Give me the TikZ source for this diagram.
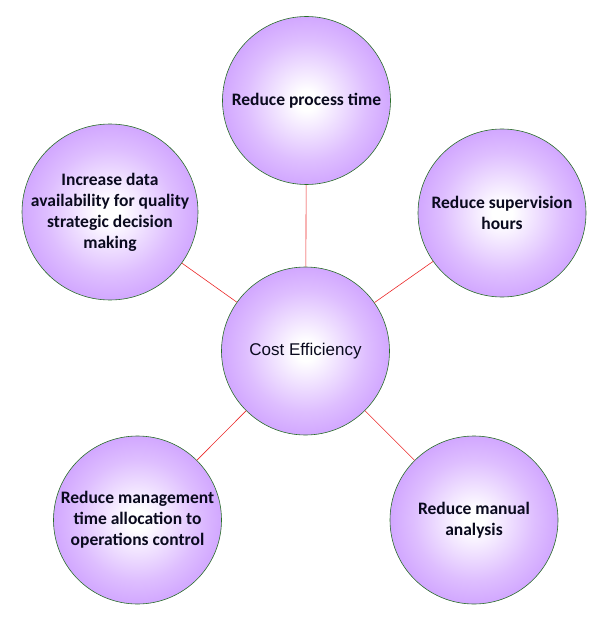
\documentclass[tikz,border=0pt]{standalone}
\usepackage{fontspec}
\setmainfont{Carlito}
\newfontfamily\arialfont{Liberation Sans}
\usetikzlibrary{positioning}

\definecolor{bubbleedge}{RGB}{40,110,40}
\definecolor{bubblefill}{RGB}{192,135,255}
\definecolor{bubblemid}{RGB}{222,190,255}
\definecolor{linkred}{RGB}{235,40,40}
\definecolor{textnavy}{RGB}{10,10,30}

\pgfdeclareradialshading{bubbleshade}{\pgfpoint{0bp}{0bp}}{%
    color(0bp)=(white); color(3bp)=(white); color(18bp)=(bubblemid);
    color(35bp)=(bubblefill); color(50bp)=(bubblefill)}

\begin{document}
\begin{tikzpicture}[
    x=1pt, y=-1pt,
    every node/.style={circle, minimum size=168pt, inner sep=0pt, align=center,
        draw=bubbleedge, line width=0.6pt, shading=bubbleshade,
        text=textnavy},
    goal/.style={font=\fontsize{17.5}{21}\selectfont\bfseries},
    link/.style={draw=linkred, line width=0.6pt}
]

    \useasboundingbox (0,0) rectangle (609,631);

    % Nodes
    \node[font=\arialfont\fontsize{17}{20}\selectfont] (cost) at (305.5,351) {Cost Efficiency};
    \node[goal] (process) at (306.5,100.5) {Reduce process time};
    \node[goal] (supervision) at (502,213) {Reduce supervision\\hours};
    \node[goal] (manual) at (474,520) {Reduce manual\\analysis};
    \node[goal] (management) at (137.5,520) {Reduce management\\time allocation to\\operations control};
    \node[goal] (data) at (110,212) {Increase data\\availability for quality\\strategic decision\\making};

    % Links
    \draw[link] (cost) -- (process);
    \draw[link] (cost) -- (supervision);
    \draw[link] (cost) -- (manual);
    \draw[link] (cost) -- (management);
    \draw[link] (cost) -- (data);
\end{tikzpicture}
\end{document}
